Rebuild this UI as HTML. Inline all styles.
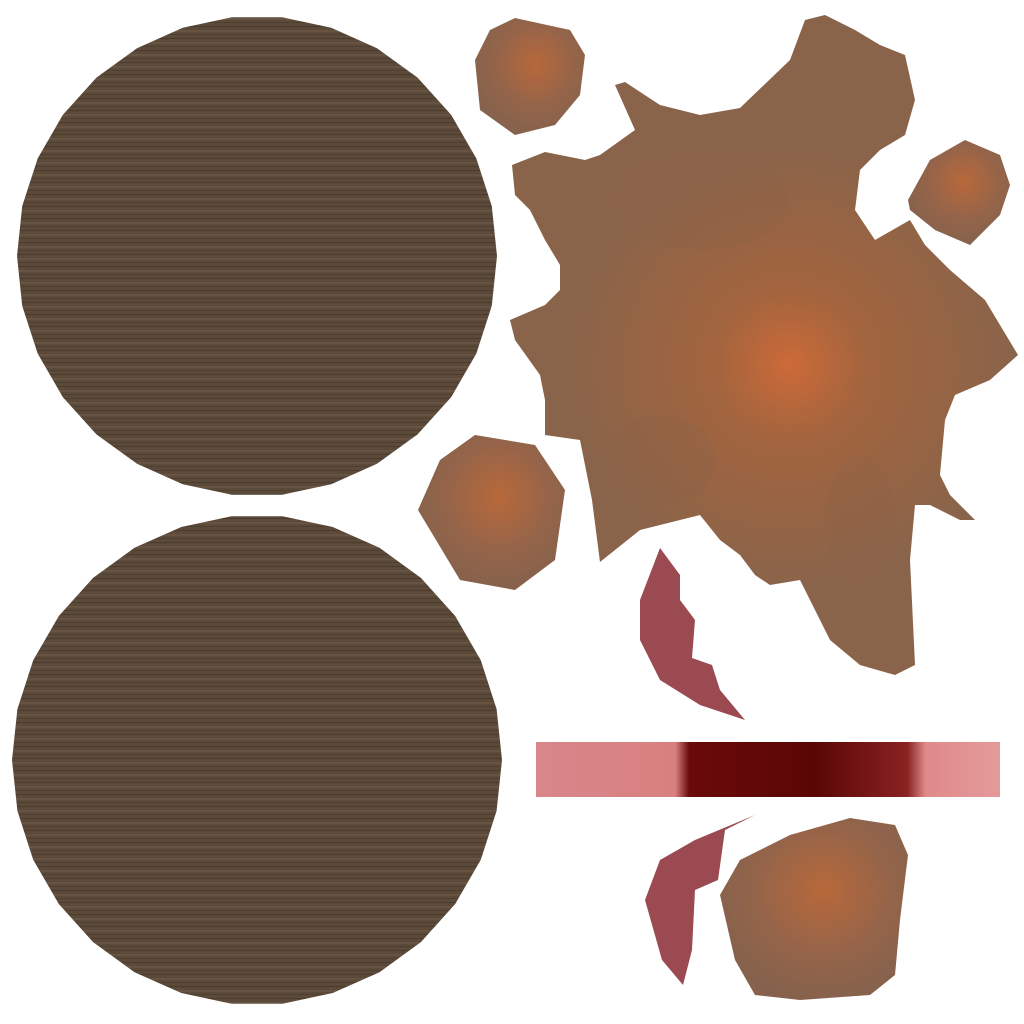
<!DOCTYPE html>
<html><head><meta charset="utf-8"><style>html,body{margin:0;padding:0;background:#fff;width:1024px;height:1024px;overflow:hidden}</style></head>
<body>
<svg width="1024" height="1024" viewBox="0 0 1024 1024">
<defs>
<pattern id="wood" width="8" height="12" patternUnits="userSpaceOnUse">
<rect width="8" height="12" fill="#5b4a3a"/>
<rect y="2" width="8" height="1" fill="#4a3b2d"/>
<rect y="6" width="8" height="2" fill="#665341"/>
<rect y="10" width="8" height="1" fill="#4f3f31"/>
</pattern>
<radialGradient id="splatG" cx="790" cy="365" r="220" gradientUnits="userSpaceOnUse">
<stop offset="0" stop-color="#cc6a38"/><stop offset="0.35" stop-color="#a2643e"/><stop offset="1" stop-color="#8a644a"/>
</radialGradient>
<radialGradient id="blobG" cx="0.55" cy="0.4" r="0.6">
<stop offset="0" stop-color="#b8683a"/><stop offset="0.6" stop-color="#94644a"/><stop offset="1" stop-color="#86624c"/>
</radialGradient>
<linearGradient id="barG" x1="0" x2="1">
<stop offset="0" stop-color="#d8868a"/><stop offset="0.3" stop-color="#d88080"/>
<stop offset="0.33" stop-color="#6a0a0a"/><stop offset="0.6" stop-color="#5a0606"/>
<stop offset="0.8" stop-color="#8a2222"/><stop offset="0.84" stop-color="#e08a8a"/><stop offset="1" stop-color="#e49a9a"/>
</linearGradient>
</defs>
<g id="discs"></g>
<polygon fill="url(#splatG)" points="512,165 545,152 585,160 600,155 635,130 615,85 625,82 660,105 700,115 740,108 790,60 805,20 825,15 855,30 880,45 905,55 915,100 905,135 880,150 860,170 855,210 875,240 910,220 925,245 950,270 985,300 1018,355 990,380 955,395 945,420 940,475 950,495 975,520 960,520 930,505 915,505 910,560 915,665 895,675 860,665 830,640 800,580 770,585 755,575 740,555 720,540 700,515 640,530 600,562 592,500 580,440 545,435 545,400 540,375 515,340 510,320 545,305 560,290 560,265 545,240 530,210 515,195"/>
<ellipse cx="700" cy="200" rx="90" ry="50" fill="#8a6448" opacity="0.3"/>
<ellipse cx="660" cy="460" rx="55" ry="45" fill="#8a6448" opacity="0.3"/>
<ellipse cx="860" cy="520" rx="35" ry="65" fill="#8a6448" opacity="0.3"/>
<polygon fill="url(#blobG)" points="475,60 490,30 515,18 570,30 585,55 580,95 555,125 515,135 480,110"/>
<polygon fill="url(#blobG)" points="908,200 930,160 965,140 1000,155 1010,185 1000,215 970,245 935,230 910,210"/>
<polygon fill="url(#blobG)" points="418,510 440,460 475,435 535,445 565,490 555,560 515,590 460,580"/>
<polygon fill="url(#blobG)" points="720,895 740,860 790,835 850,818 895,825 908,855 900,920 895,975 870,995 800,1000 755,995 735,960"/>
<polygon fill="#9a4a50" points="640,600 660,548 680,575 680,600 695,620 692,658 712,665 720,690 745,720 700,705 660,680 640,640"/>
<polygon fill="#9a4a50" points="645,900 660,860 695,840 755,815 725,830 718,880 695,890 692,950 683,985 662,960"/>
<rect x="536" y="742" width="464" height="55" fill="url(#barG)"/>
</svg>
<script>
const discCenters=[[257,256,240],[257,760,245]];
const g=document.getElementById('discs');
discCenters.forEach(function(c,i){
  const p=document.createElementNS('http://www.w3.org/2000/svg','polygon');
  let pts=[];
  for(let k=0;k<30;k++){const a=k/30*Math.PI*2;pts.push((c[0]+c[2]*Math.cos(a)).toFixed(1)+','+(c[1]+c[2]*Math.sin(a)).toFixed(1));}
  p.setAttribute('points',pts.join(' '));
  p.setAttribute('fill','url(#wood)');
  
  
  g.appendChild(p);
});
</script>
</body></html>
